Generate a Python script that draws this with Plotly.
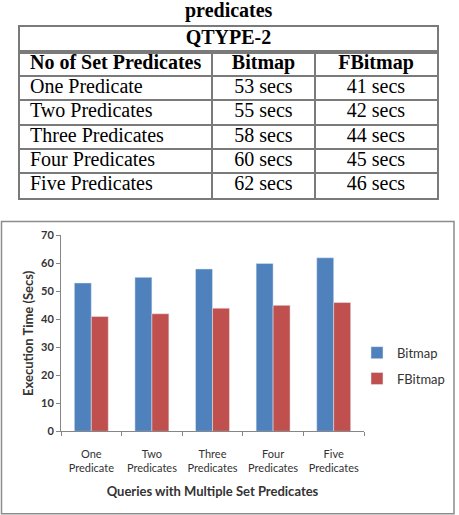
import plotly.graph_objects as go

# ---- data ----
categories = ["One Predicate", "Two Predicates", "Three Predicates", "Four Predicates", "Five Predicates"]
tick_labels = ["One<br>Predicate", "Two<br>Predicates", "Three<br>Predicates", "Four<br>Predicates", "Five<br>Predicates"]
bitmap = [53, 55, 58, 60, 62]
fbitmap = [41, 42, 44, 45, 46]
series_names = ["Bitmap", "FBitmap"]
table_group = "QTYPE-2"
table_headers = ["No of Set Predicates", "Bitmap", "FBitmap"]
table_title = "predicates"

W, H = 459, 515
def px_x(x): return x / W
def px_y(y): return (H - y) / H

BLUE = "#4F81BD"
RED = "#C0504D"
TXT = "#333333"
AXC = "#868686"
TLINE = "#7a7a7a"
SERIF = "Liberation Serif"
SANS = "Lato"

col_w = [192, 103, 122]
col_edges = [0, col_w[0], col_w[0] + col_w[1], sum(col_w)]
n_rows = 1 + len(categories)

fig = go.Figure()

# ---------- bar chart ----------
fig.add_trace(go.Bar(x=categories, y=bitmap, name=series_names[0], marker_color=BLUE,
                     legendgroup="a", xaxis="x", yaxis="y"))
fig.add_trace(go.Bar(x=categories, y=fbitmap, name=series_names[1], marker_color=RED,
                     legendgroup="b", xaxis="x", yaxis="y"))

# ---------- table body (header row + data rows) ----------
rows_text = [table_headers] + [[c, f"{b} secs", f"{f} secs"] for c, b, f in zip(categories, bitmap, fbitmap)]
for ci in range(3):
    xs, ys, ts = [], [], []
    for ri, row in enumerate(rows_text):
        if ci == 0:
            xs.append(col_edges[0] + 10)
        else:
            xs.append((col_edges[ci] + col_edges[ci + 1]) / 2)
        ys.append(ri + 0.5)
        ts.append(f"<b>{row[ci]}</b>" if ri == 0 else row[ci])
    fig.add_trace(go.Scatter(
        x=xs, y=ys, text=ts, mode="text",
        textposition="middle right" if ci == 0 else "middle center",
        textfont=dict(family=SERIF, size=20, color="black"),
        xaxis="x2", yaxis="y2", showlegend=False, hoverinfo="skip"))

# ---------- table merged group header ----------
fig.add_trace(go.Scatter(
    x=[0.5], y=[0.5], text=[f"<b>{table_group}</b>"], mode="text",
    textposition="middle center",
    textfont=dict(family=SERIF, size=20, color="black"),
    xaxis="x3", yaxis="y3", showlegend=False, hoverinfo="skip"))

tbl_x_dom = [px_x(20), px_x(437)]

fig.update_layout(
    width=W, height=H, autosize=False,
    margin=dict(l=0, r=0, t=0, b=0),
    paper_bgcolor="white", plot_bgcolor="white",
    barmode="group", bargap=0.44, bargroupgap=0,
    font=dict(family=SANS, color=TXT),
    showlegend=True,
    legend=dict(x=px_x(357), y=px_y(368), xanchor="left", yanchor="middle",
                font=dict(family=SANS, size=13, color=TXT),
                tracegroupgap=6, itemwidth=30, bgcolor="rgba(0,0,0,0)"),
    xaxis=dict(domain=[px_x(61), px_x(364)], anchor="y",
               tickmode="array", tickvals=categories, ticktext=tick_labels, tickangle=0,
               tickson="boundaries", ticks="outside", ticklen=4, tickcolor=AXC,
               ticklabelstandoff=12,
               showline=True, linecolor=AXC, linewidth=1,
               tickfont=dict(family=SANS, size=11, color=TXT),
               title=dict(text="<b>Queries with Multiple Set Predicates</b>",
                          font=dict(family=SANS, size=13, color=TXT), standoff=14),
               showgrid=False, fixedrange=True),
    yaxis=dict(domain=[px_y(435.3), px_y(234.3)], anchor="x",
               range=[0, 70], dtick=10, ticks="outside", ticklen=4, tickcolor=AXC,
               showline=True, linecolor=AXC, linewidth=1,
               tickfont=dict(family=SANS, size=11, color=TXT, weight="bold"),
               title=dict(text="<b>Execution Time (Secs)</b>",
                          font=dict(family=SANS, size=13, color=TXT), standoff=4),
               showgrid=False, zeroline=False, fixedrange=True),
    xaxis2=dict(domain=tbl_x_dom, anchor="y2", range=[col_edges[0], col_edges[-1]],
                tickmode="array", tickvals=col_edges[1:3], showticklabels=False, ticks="",
                showgrid=True, gridcolor=TLINE, gridwidth=1.5, zeroline=False,
                showline=True, mirror=True, linecolor=TLINE, linewidth=2, fixedrange=True),
    yaxis2=dict(domain=[px_y(195.5), px_y(45.7)], anchor="x2", range=[n_rows, 0],
                tickmode="array", tickvals=list(range(1, n_rows)), showticklabels=False, ticks="",
                showgrid=True, gridcolor=TLINE, gridwidth=1.5, zeroline=False,
                showline=True, mirror=True, linecolor=TLINE, linewidth=2, fixedrange=True),
    xaxis3=dict(domain=tbl_x_dom, anchor="y3", range=[0, 1],
                showticklabels=False, ticks="", showgrid=False, zeroline=False,
                showline=True, mirror=True, linecolor=TLINE, linewidth=2, fixedrange=True),
    yaxis3=dict(domain=[px_y(45.7), px_y(20.7)], anchor="x3", range=[0, 1],
                showticklabels=False, ticks="", showgrid=False, zeroline=False,
                showline=True, mirror=True, linecolor=TLINE, linewidth=2, fixedrange=True),
    shapes=[dict(type="rect", xref="paper", yref="paper",
                 x0=px_x(1.5), x1=px_x(454), y0=px_y(520), y1=px_y(220),
                 line=dict(color="#8c8c8c", width=1.5), fillcolor="rgba(0,0,0,0)")],
    annotations=[dict(text="<b>" + table_title + "</b>", xref="paper", yref="paper",
                      x=px_x(229), y=px_y(4), xanchor="center", yanchor="middle",
                      showarrow=False, font=dict(family=SERIF, size=20, color="black"))],
)

fig.write_html("out.html")
